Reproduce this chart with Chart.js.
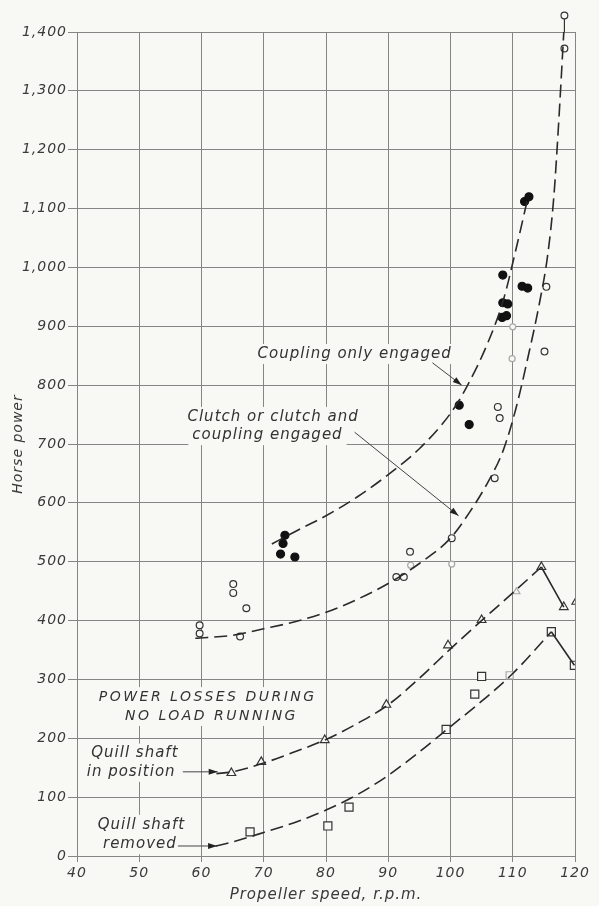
<!DOCTYPE html>
<html>
<head>
<meta charset="utf-8">
<script src="https://cdn.jsdelivr.net/npm/chart.js@4/dist/chart.umd.min.js"></script>
<style>
  html, body { margin: 0; padding: 0; background: #f8f8f5; }
  #wrap { width: 599px; height: 906px; position: relative; }
</style>
</head>
<body>
<div id="wrap"><canvas id="chart"></canvas></div>
<script>
// ---- axis ticks ----
const speedTicks = [40, 50, 60, 70, 80, 90, 100, 110, 120];
const powerTicks = [0, 100, 200, 300, 400, 500, 600, 700, 800, 900, 1000, 1100, 1200, 1300, 1400];

// ---- measured points ----
// Coupling only engaged (filled circles)
const couplingSpeed = [72.7, 73.1, 73.4, 75.0, 101.4, 103.0, 108.3, 109.0, 108.4, 109.2, 108.4, 111.5, 112.4, 111.9, 112.6];
const couplingHp    = [513, 531, 545, 508, 766, 733, 915, 918, 940, 938, 987, 968, 965, 1112, 1120];

// Clutch or clutch and coupling engaged (open circles)
const clutchSpeed = [59.7, 59.7, 65.1, 65.1, 66.2, 67.2, 91.3, 92.5, 93.5, 100.2, 107.1, 107.6, 107.9, 115.1, 115.4, 118.3, 118.3];
const clutchHp    = [392, 378, 462, 447, 373, 421, 474, 474, 517, 540, 642, 763, 744, 857, 967, 1372, 1428];
const clutchFaintSpeed = [93.6, 100.2, 110.0, 109.9];
const clutchFaintHp    = [494, 496, 899, 845];

// No-load losses, quill shaft in position (triangles)
const quillInSpeed = [64.8, 69.6, 79.8, 89.7, 99.6, 105.0, 114.6, 118.2, 120.2];
const quillInHp    = [141, 160, 197, 257, 358, 401, 491, 423, 432];
const quillInFaintSpeed = [110.6];
const quillInFaintHp    = [449];

// No-load losses, quill shaft removed (squares)
const quillOutSpeed = [67.8, 80.3, 83.7, 99.3, 103.9, 105.0, 116.2, 119.9];
const quillOutHp    = [41, 51, 83, 215, 275, 305, 381, 324];
const quillOutFaintSpeed = [109.5];
const quillOutFaintHp    = [307];

// ---- faired curves ----
const couplingCurveSpeed = [71.3, 75, 80, 85, 90, 95, 100, 102.5, 106, 108.5, 110.5, 112.5];
const couplingCurveHp    = [530, 551, 578, 610, 648, 692, 752, 795, 872, 945, 1030, 1122];

const clutchCurveSpeed = [59, 65, 70, 75, 80, 85, 90, 95, 100, 103, 106, 108.5, 110.5, 112.5, 114.3, 115.6, 116.6, 117.4, 118.2];
const clutchCurveHp    = [370, 375, 386, 398, 414, 436, 463, 497, 540, 583, 635, 690, 760, 850, 940, 1020, 1120, 1250, 1400];

const quillInCurveSpeed = [62.4, 65, 70, 75, 80, 85, 90, 95, 100, 105, 110, 114.6];
const quillInCurveHp    = [140, 143, 158, 177, 198, 225, 257, 302, 352, 400, 447, 491];
const quillInTailSpeed  = [114.6, 118.2];
const quillInTailHp     = [491, 423];

const quillOutCurveSpeed = [62.3, 65, 70, 75, 80, 85, 90, 95, 100, 105, 110, 116.2];
const quillOutCurveHp    = [17, 24, 40, 57, 78, 104, 137, 177, 220, 263, 310, 381];
const quillOutTailSpeed  = [116.2, 119.9];
const quillOutTailHp     = [381, 324];

// ---- lettering on the sheet (anchored in speed / horse-power units) ----
const notes = [
  { text: 'Coupling only engaged', speed: 84.6, hp: 853, caps: false },
  { text: 'Clutch or clutch and',  speed: 71.5, hp: 746, caps: false },
  { text: 'coupling engaged',      speed: 70.6, hp: 715, caps: false },
  { text: 'POWER LOSSES DURING',   speed: 61.0, hp: 270, caps: true },
  { text: 'NO LOAD RUNNING',       speed: 61.6, hp: 238, caps: true },
  { text: 'Quill shaft',           speed: 49.3, hp: 174, caps: false },
  { text: 'in position',           speed: 48.7, hp: 143, caps: false },
  { text: 'Quill shaft',           speed: 50.35, hp: 53, caps: false },
  { text: 'removed',               speed: 50.1, hp: 20, caps: false }
];
const leaders = [
  { from: [97.1, 838], to: [101.8, 800] },
  { from: [84.6, 720], to: [101.3, 578] },
  { from: [57.0, 143], to: [62.6, 143] },
  { from: [56.2, 17],  to: [62.5, 17] }
];

const paper = '#f8f8f5';
const ink = '#2a2a2a';
const faint = '#a8a8a8';
const gridColor = '#858585';

const pts = (xs, ys) => xs.map((x, i) => ({ x: x, y: ys[i] }));

const curve = (xs, ys, dashed) => ({
  type: 'line',
  data: pts(xs, ys),
  showLine: true,
  borderColor: ink,
  borderWidth: 1.6,
  borderDash: dashed ? [13, 6] : [],
  pointRadius: 0,
  pointHoverRadius: 0,
  fill: false,
  cubicInterpolationMode: 'monotone'
});

const marks = (xs, ys, style, radius, fillCol, strokeCol, extra) => Object.assign({
  type: 'scatter',
  data: pts(xs, ys),
  showLine: false,
  pointStyle: style,
  pointRadius: radius,
  pointHoverRadius: radius,
  pointBackgroundColor: fillCol,
  pointBorderColor: strokeCol,
  pointBorderWidth: 1.2
}, extra || {});

const sheet = {
  id: 'sheet',
  beforeDraw(chart) {
    const ctx = chart.ctx;
    ctx.save();
    ctx.fillStyle = paper;
    ctx.fillRect(0, 0, chart.width, chart.height);
    ctx.restore();
    ctx.letterSpacing = '1px';
  },
  beforeDatasetsDraw(chart) {
    const ctx = chart.ctx;
    const xs = chart.scales.x, ys = chart.scales.y;
    ctx.save();
    ctx.textAlign = 'center';
    ctx.textBaseline = 'middle';
    notes.forEach(n => {
      ctx.font = n.caps ? 'italic 14px "DejaVu Sans"' : 'italic 15px "DejaVu Sans"';
      ctx.letterSpacing = n.caps ? '2.5px' : '1px';
      const px = xs.getPixelForValue(n.speed);
      const py = ys.getPixelForValue(n.hp);
      const w = ctx.measureText(n.text).width;
      ctx.fillStyle = paper;
      ctx.fillRect(px - w / 2 - 4, py - 10, w + 8, 20);
      ctx.fillStyle = '#333';
      ctx.fillText(n.text, px, py);
    });
    ctx.strokeStyle = '#444';
    ctx.fillStyle = '#222';
    ctx.lineWidth = 1;
    leaders.forEach(l => {
      const x1 = xs.getPixelForValue(l.from[0]), y1 = ys.getPixelForValue(l.from[1]);
      const x2 = xs.getPixelForValue(l.to[0]),   y2 = ys.getPixelForValue(l.to[1]);
      ctx.beginPath();
      ctx.moveTo(x1, y1);
      ctx.lineTo(x2, y2);
      ctx.stroke();
      const a = Math.atan2(y2 - y1, x2 - x1);
      const len = 9, half = 3;
      ctx.beginPath();
      ctx.moveTo(x2, y2);
      ctx.lineTo(x2 - len * Math.cos(a) + half * Math.sin(a), y2 - len * Math.sin(a) - half * Math.cos(a));
      ctx.lineTo(x2 - len * Math.cos(a) - half * Math.sin(a), y2 - len * Math.sin(a) + half * Math.cos(a));
      ctx.closePath();
      ctx.fill();
    });
    ctx.restore();
  },
  afterDatasetsDraw(chart) {
    // readings plotted above the top of the scale, with a stem down to the border
    const ctx = chart.ctx;
    const whole = { left: 0, top: 0, right: chart.width, bottom: chart.height };
    chart.data.datasets.forEach((ds, i) => {
      if (!ds.overflowMarks) return;
      chart.getDatasetMeta(i).data.forEach(el => {
        if (el.y >= chart.chartArea.top - 1) return;
        ctx.save();
        ctx.strokeStyle = '#333';
        ctx.lineWidth = 1.2;
        ctx.beginPath();
        ctx.moveTo(el.x, el.y + el.options.radius);
        ctx.lineTo(el.x, chart.chartArea.top);
        ctx.stroke();
        ctx.restore();
        el.draw(ctx, whole);
      });
    });
  }
};

const tickFont = { family: '"DejaVu Sans"', size: 14, style: 'italic' };

new Chart(document.getElementById('chart'), {
  type: 'scatter',
  data: {
    datasets: [
      curve(couplingCurveSpeed, couplingCurveHp, true),
      curve(clutchCurveSpeed, clutchCurveHp, true),
      curve(quillInCurveSpeed, quillInCurveHp, true),
      curve(quillInTailSpeed, quillInTailHp, false),
      curve(quillOutCurveSpeed, quillOutCurveHp, true),
      curve(quillOutTailSpeed, quillOutTailHp, false),
      marks(clutchFaintSpeed, clutchFaintHp, 'circle', 3, paper, faint),
      marks(quillInFaintSpeed, quillInFaintHp, 'triangle', 4, paper, faint),
      marks(quillOutFaintSpeed, quillOutFaintHp, 'rect', 5, paper, faint),
      marks(couplingSpeed, couplingHp, 'circle', 4, '#111', '#111'),
      marks(clutchSpeed, clutchHp, 'circle', 3.4, paper, '#333', { overflowMarks: true }),
      marks(quillInSpeed, quillInHp, 'triangle', 5, paper, '#333'),
      marks(quillOutSpeed, quillOutHp, 'rect', 5.7, paper, '#333')
    ]
  },
  options: {
    responsive: true,
    maintainAspectRatio: false,
    animation: false,
    devicePixelRatio: 1,
    layout: { padding: { left: 0, right: 24, top: 32, bottom: 0 } },
    plugins: { legend: { display: false }, tooltip: { enabled: false } },
    scales: {
      x: {
        type: 'linear',
        min: speedTicks[0],
        max: speedTicks[speedTicks.length - 1],
        afterBuildTicks: s => { s.ticks = speedTicks.map(v => ({ value: v })); },
        afterFit: s => { s.height = 50; },
        grid: { color: gridColor, lineWidth: 1, tickLength: 6, drawTicks: true },
        border: { color: gridColor, width: 1 },
        ticks: { color: '#3a3a3a', font: tickFont, padding: 3, maxRotation: 0, callback: v => String(v) },
        title: { display: true, text: 'Propeller speed, r.p.m.', color: '#3a3a3a', font: { family: '"DejaVu Sans"', size: 15, style: 'italic' }, padding: { top: 0, bottom: 2 } }
      },
      y: {
        type: 'linear',
        min: powerTicks[0],
        max: powerTicks[powerTicks.length - 1],
        afterBuildTicks: s => { s.ticks = powerTicks.map(v => ({ value: v })); },
        afterFit: s => { s.width = 77; },
        grid: { color: gridColor, lineWidth: 1, tickLength: 9, drawTicks: true },
        border: { color: gridColor, width: 1 },
        ticks: { color: '#3a3a3a', font: tickFont, padding: 1, callback: v => v.toLocaleString('en-US') },
        title: { display: true, text: 'Horse power', color: '#3a3a3a', font: { family: '"DejaVu Sans"', size: 14, style: 'italic' }, padding: { top: 10, bottom: 0 } }
      }
    }
  },
  plugins: [sheet]
});
</script>
</body>
</html>
